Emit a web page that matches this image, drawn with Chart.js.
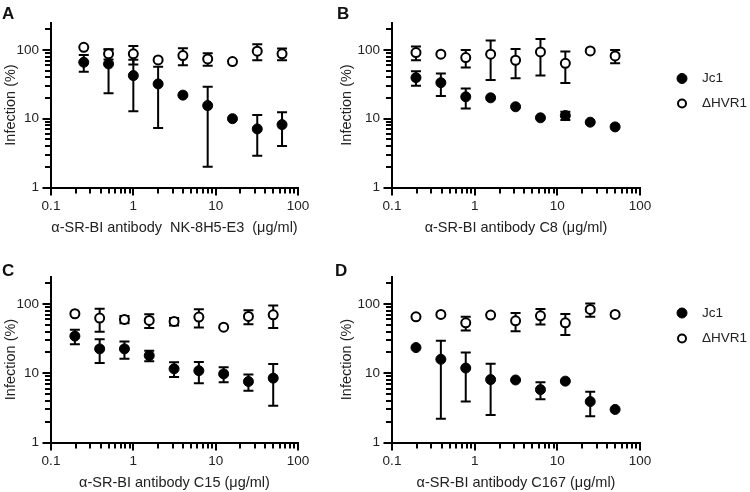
<!DOCTYPE html>
<html>
<head>
<meta charset="utf-8">
<script src="https://cdn.jsdelivr.net/npm/chart.js@4.4.1/dist/chart.umd.min.js"></script>
<style>
  body { margin: 0; background: #fff; overflow: hidden; }
  #wrap { position: relative; width: 750px; height: 492px; }
  canvas { position: absolute; }
  .tag { position: absolute; font: bold 17px "Liberation Sans", Arial, sans-serif; color: #111; line-height: 1; }
</style>
</head>
<body>
<div id="wrap">
  <canvas id="chartA" width="336" height="246" style="left:0;top:0"></canvas>
  <canvas id="chartB" width="414" height="246" style="left:336px;top:0"></canvas>
  <canvas id="chartC" width="336" height="246" style="left:0;top:246px"></canvas>
  <canvas id="chartD" width="414" height="246" style="left:336px;top:246px"></canvas>
  <div class="tag" style="left:2px;top:5px">A</div>
  <div class="tag" style="left:337px;top:5px">B</div>
  <div class="tag" style="left:2px;top:262px">C</div>
  <div class="tag" style="left:335px;top:262px">D</div>
</div>
<script>
const FONT = '"Liberation Sans", Arial, sans-serif';
const TEXT = '#222';

// antibody doses (µg/ml)
const dosesA = [0.25, 0.5, 1, 2, 4, 8, 16, 32, 64];
const dosesBCD = [0.195, 0.39, 0.78, 1.56, 3.125, 6.25, 12.5, 25, 50];

// axis ticks
const xTicks = [0.1, 1, 10, 100];
const yTicks = [1, 10, 100];

// A: NK-8H5-E3
const jc1A = [66, 62.5, 42.3, 32, 22, 15.5, 10, 7.1, 8.2];
const jc1SdA = [18, 39, 29.5, 24.7, 0, 13.5, 0, 4.2, 4.2];
const hvrA = [109, 87.5, 87.5, 71.5, 82.7, 74, 67.6, 95.6, 87.5];
const hvrSdA = [0, 15, 26, 0, 23, 15, 0, 25, 17];

// B: C8
const jc1B = [39.5, 33.4, 20.8, 20.1, 14.9, 10.3, 11.1, 8.9, 7.6];
const jc1SdB = [9.3, 12, 6.7, 0, 0, 0, 1.5, 0, 0];
const hvrB = [91.4, 86.5, 77.3, 86.5, 70.7, 93.5, 63.9, 96.7, 81.7];
const hvrSdB = [21, 0, 22, 50, 32, 51, 31, 0, 18];

// C: C15
const jc1C = [34.4, 22.5, 22.5, 18, 11.6, 10.9, 9.8, 7.6, 8.5];
const jc1SdC = [8.2, 8.4, 6.3, 3.1, 2.8, 3.7, 2.4, 2, 5.1];
const hvrC = [72.4, 62.7, 60, 58, 56.1, 64.8, 46.4, 66.2, 70];
const hvrSdC = [0, 23, 7, 13, 7, 19, 0, 15, 25];

// D: C167
const jc1D = [23.5, 15.9, 11.9, 8.1, 8.0, 5.8, 7.7, 3.9, 3.0];
const jc1SdD = [0, 13.7, 8, 5.6, 0, 1.6, 0, 1.5, 0];
const hvrD = [65.5, 70.8, 53.6, 69.2, 57.3, 67.7, 53.6, 83.7, 70.8];
const hvrSdD = [0, 0, 12, 0, 17, 17, 18, 18, 0];

// minor tick positions: 2..9 times each decade
const minorOf = (majors, max) => {
  const out = [];
  majors.forEach(d => { for (let k = 2; k <= 9; k++) if (k * d <= max) out.push(k * d); });
  return out;
};

// Draws major/minor tick marks along both log axes
const logTicks = {
  id: 'logTicks',
  afterDraw(chart) {
    const { ctx } = chart;
    const xs = chart.scales.x, ys = chart.scales.y;
    ctx.save();
    ctx.strokeStyle = '#000';
    ctx.lineWidth = 2;
    ctx.beginPath();
    xTicks.concat(minorOf(xTicks, 100)).forEach(v => {
      const px = Math.round(xs.getPixelForValue(v));
      const len = xTicks.includes(v) ? 8 : 6;
      ctx.moveTo(px, xs.top); ctx.lineTo(px, xs.top + len);
    });
    yTicks.concat(minorOf(yTicks, 250)).forEach(v => {
      const py = Math.round(ys.getPixelForValue(v));
      const len = yTicks.includes(v) ? 8.5 : 6;
      ctx.moveTo(ys.right, py); ctx.lineTo(ys.right - len, py);
    });
    ctx.stroke();
    ctx.restore();
  }
};

// SD error bars, drawn under the markers
const errorBars = {
  id: 'errorBars',
  beforeDatasetsDraw(chart) {
    const { ctx } = chart;
    const xs = chart.scales.x, ys = chart.scales.y;
    ctx.save();
    ctx.strokeStyle = '#000';
    ctx.lineWidth = 2;
    chart.data.datasets.forEach(ds => {
      ds.data.forEach((pt, i) => {
        const sd = ds.sd[i];
        if (!sd) return;
        const px = xs.getPixelForValue(pt.x);
        const top = ys.getPixelForValue(pt.y + sd);
        const bottom = ys.getPixelForValue(Math.max(pt.y - sd, 1));
        ctx.beginPath();
        ctx.moveTo(px, top); ctx.lineTo(px, bottom);
        ctx.moveTo(px - 5, top); ctx.lineTo(px + 5, top);
        ctx.moveTo(px - 5, bottom); ctx.lineTo(px + 5, bottom);
        ctx.stroke();
      });
    });
    ctx.restore();
  }
};

// Legend to the right of the plot
const sideLegend = {
  id: 'sideLegend',
  afterDraw(chart, args, opts) {
    if (!opts.show) return;
    const { ctx } = chart;
    ctx.save();
    chart.data.datasets.forEach((ds, i) => {
      const cy = opts.y + i * opts.gap;
      ctx.beginPath();
      ctx.arc(opts.x, cy, ds.pointBorderWidth > 1 ? 4 : 5, 0, Math.PI * 2);
      ctx.fillStyle = ds.pointBackgroundColor;
      ctx.fill();
      ctx.lineWidth = ds.pointBorderWidth;
      ctx.strokeStyle = '#000';
      ctx.stroke();
      ctx.fillStyle = TEXT;
      ctx.font = `13.5px ${FONT}`;
      ctx.textBaseline = 'middle';
      ctx.fillText(ds.label, opts.textX, cy);
    });
    ctx.restore();
  }
};

function makeChart(id, doses, jc1, jc1Sd, hvr, hvrSd, xTitle, box, legend) {
  const ctx = document.getElementById(id).getContext('2d');
  return new Chart(ctx, {
    type: 'scatter',
    data: {
      datasets: [
        {
          label: 'Jc1',
          data: doses.map((x, i) => ({ x, y: jc1[i] })),
          sd: jc1Sd,
          pointRadius: 5,
          pointBackgroundColor: '#000',
          pointBorderColor: '#000',
          pointBorderWidth: 1,
          showLine: false
        },
        {
          label: 'ΔHVR1',
          data: doses.map((x, i) => ({ x, y: hvr[i] })),
          sd: hvrSd,
          pointRadius: 4.5,
          pointBackgroundColor: '#fff',
          pointBorderColor: '#000',
          pointBorderWidth: 2,
          showLine: false
        }
      ]
    },
    options: {
      responsive: false,
      animation: false,
      events: [],
      layout: { padding: { left: 0, top: box.top, right: box.right, bottom: box.bottom } },
      scales: {
        x: {
          type: 'logarithmic',
          min: 0.1,
          max: 100,
          afterBuildTicks: s => { s.ticks = xTicks.map(v => ({ value: v })); },
          afterFit: s => { s.height = 48.9; },
          grid: { display: false, drawTicks: false },
          border: { display: true, color: '#000', width: 2 },
          ticks: {
            padding: 11,
            color: TEXT,
            autoSkip: false,
            maxRotation: 0,
            font: { family: FONT, size: 13.5 },
            callback: v => String(v)
          },
          title: {
            display: true,
            text: xTitle,
            color: TEXT,
            font: { family: FONT, size: 14.5 },
            padding: { top: 0, bottom: 0 }
          }
        },
        y: {
          type: 'logarithmic',
          min: 1,
          max: 250,
          afterBuildTicks: s => { s.ticks = yTicks.map(v => ({ value: v })); },
          afterFit: s => { s.width = box.yWidth; },
          grid: { display: false, drawTicks: false },
          border: { display: true, color: '#000', width: 2 },
          ticks: {
            padding: 12,
            color: TEXT,
            autoSkip: false,
            font: { family: FONT, size: 13.5 },
            callback: v => String(v)
          },
          title: {
            display: true,
            text: 'Infection (%)',
            color: TEXT,
            font: { family: FONT, size: 14.5 },
            padding: { top: 2, bottom: 0 }
          }
        }
      },
      plugins: {
        legend: { display: false },
        tooltip: { enabled: false },
        sideLegend: legend || { show: false }
      }
    },
    plugins: [errorBars, logTicks, sideLegend]
  });
}

document.addEventListener('DOMContentLoaded', () => {
  const topLeft = { top: 22.5, right: 38, bottom: 9.6, yWidth: 51 };
  const topRight = { top: 22.5, right: 110, bottom: 9.6, yWidth: 56 };
  const botLeft = { top: 30.5, right: 38, bottom: 0.6, yWidth: 51 };
  const botRight = { top: 30.5, right: 110, bottom: 0.6, yWidth: 56 };

  makeChart('chartA', dosesA, jc1A, jc1SdA, hvrA, hvrSdA,
    'α-SR-BI antibody  NK-8H5-E3  (μg/ml)', topLeft);
  makeChart('chartB', dosesBCD, jc1B, jc1SdB, hvrB, hvrSdB,
    'α-SR-BI antibody C8 (μg/ml)', topRight,
    { show: true, x: 346, y: 78.5, gap: 25, textX: 366 });
  makeChart('chartC', dosesBCD, jc1C, jc1SdC, hvrC, hvrSdC,
    'α-SR-BI antibody C15 (μg/ml)', botLeft);
  makeChart('chartD', dosesBCD, jc1D, jc1SdD, hvrD, hvrSdD,
    'α-SR-BI antibody C167 (μg/ml)', botRight,
    { show: true, x: 346, y: 67, gap: 25.5, textX: 366 });
});
</script>
</body>
</html>
